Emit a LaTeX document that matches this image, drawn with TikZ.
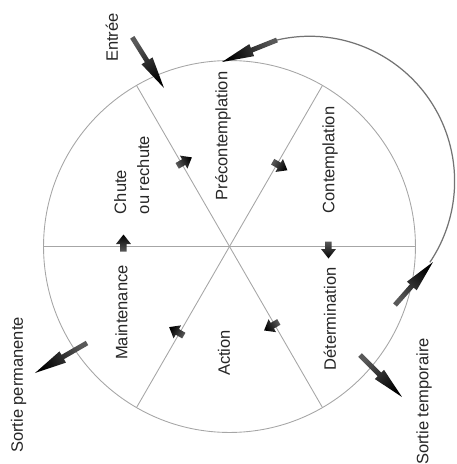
\documentclass[tikz,border=0pt]{standalone}
\usepackage{fontspec}
\setmainfont{Liberation Sans}
\usepackage{tikz}
\usetikzlibrary{calc}

\newcommand{\fatarrow}[5]{%
  \pgfmathanglebetweenpoints{\pgfpointanchor{#1}{center}}{\pgfpointanchor{#2}{center}}%
  \pgfmathsetmacro{\fatang}{\pgfmathresult-90}%
  \path ($(#2)!#5!(#1)$) coordinate (fatbase);
  \shade[arrowfill, shading angle=\fatang]
    ($(#1)!#3!90:(#2)$) -- ($(fatbase)!#3!90:(#2)$) -- ($(fatbase)!#4!90:(#2)$)
    -- (#2) -- ($(fatbase)!#4!-90:(#2)$) -- ($(fatbase)!#3!-90:(#2)$)
    -- ($(#1)!#3!-90:(#2)$) -- cycle;
}

\begin{document}
\begin{tikzpicture}[x=0.02cm, y=0.02cm,
  stage/.style={rotate=90, inner sep=0pt, align=left, text=black!85,
    font=\fontsize{9.4}{13}\selectfont},
  spoke/.style={draw=black!35, line width=0.5pt},
  cycleline/.style={draw=black!55, line width=0.7pt},
  arrowfill/.style={top color=black, bottom color=black!65}
]
\useasboundingbox (-229.5,-217.5) rectangle (227.5,246.5);
\node[circle, spoke, minimum size=7.44cm, inner sep=0pt, outer sep=0pt] (wheel) at (0,0) {};
\foreach \a in {0,60,...,300}
  \draw[spoke] (wheel.center) -- (wheel.\a);

\node[stage] (pre) at (-6.5,110.5) {Précontemplation};
\node[stage] (con) at (100.5,86.5) {Contemplation};
\node[stage] (det) at (100.5,-72.5) {Détermination};
\node[stage] (act) at (-5.5,-106.5) {Action};
\node[stage] (mai) at (-108,-66) {Maintenance};
\node[stage] (chu) at (-97.8,71.5) {Chute\\ou rechute};
\node[stage] (entree) at (-117.5,209) {Entrée};
\node[stage] (sperm) at (-211,-138.5) {Sortie permanente};
\node[stage] (stemp) at (194.5,-155) {Sortie temporaire};

\coordinate (in-tail) at (-97.2,209.2);
\coordinate (in-tip) at (-65.5,158.5);
\coordinate (back-tail) at (47.5,206.5);
\coordinate (back-tip) at (-7.5,184.5);
\coordinate (tmp-tail) at (130.5,-108.5);
\coordinate (tmp-tip) at (172.5,-150.5);
\coordinate (ret-tail) at (165.5,-58.5);
\coordinate (ret-tip) at (203.5,-15.5);
\coordinate (perm-tail) at (-142.5,-96.5);
\coordinate (perm-tip) at (-194.5,-126.5);

\draw[cycleline] (back-tail) arc[start angle=103, end angle=-34, radius=145];

\foreach \from/\to in {in-tail/in-tip, back-tail/back-tip, tmp-tail/tmp-tip,
    ret-tail/ret-tip, perm-tail/perm-tip}
  \fatarrow{\from}{\to}{0.05cm}{0.13cm}{0.64cm};

\foreach \a/\r in {120/96, 60/95, 0/99, -60/90, -120/100, 180/106}{
  \coordinate (s\a-tail) at ($(\a:\r)+({\a+90}:5)$);
  \coordinate (s\a-tip) at ($(\a:\r)+({\a-90}:12)$);
  \fatarrow{s\a-tail}{s\a-tip}{0.065cm}{0.15cm}{0.19cm}
}
\end{tikzpicture}
\end{document}
